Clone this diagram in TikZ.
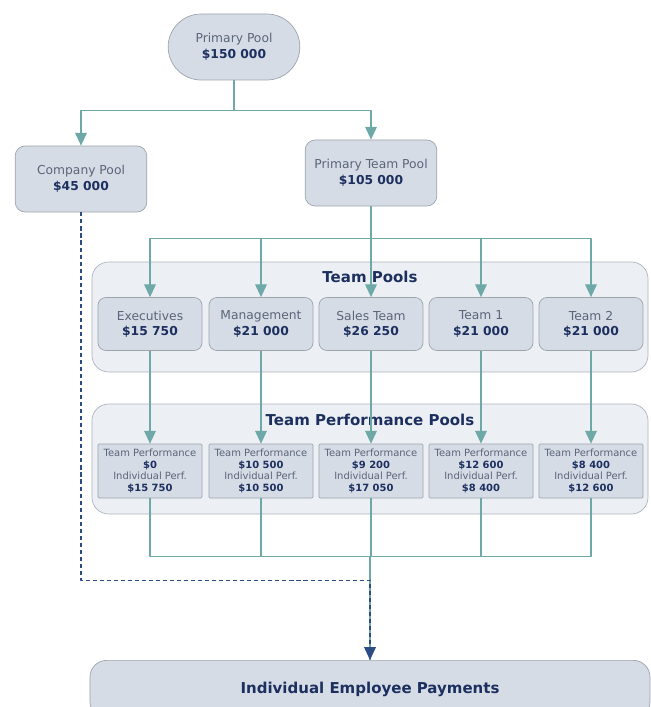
\documentclass[tikz,border=0pt]{standalone}
\usepackage{fontspec}
\setmainfont{DejaVu Sans}
\usetikzlibrary{arrows.meta}

\definecolor{boxfill}{HTML}{D5DCE6}
\definecolor{boxline}{HTML}{9EA4AC}
\definecolor{groupfill}{HTML}{ECEFF4}
\definecolor{groupline}{HTML}{AEB3BA}
\definecolor{linkteal}{HTML}{6EA9A7}
\definecolor{labelgray}{HTML}{5B6579}
\definecolor{amtblue}{HTML}{1C2F5E}
\definecolor{dashblue}{HTML}{2B4C84}

\newcommand\amt[1]{{\bfseries\color{amtblue}#1}}

\begin{document}
\begin{tikzpicture}[x=0.03cm,y=-0.03cm,line join=round,
  pool/.style={draw=boxline,fill=boxfill,line width=0.6pt,rounded corners=0.3cm,
    minimum width=3.95cm,minimum height=1.98cm,align=center,text=labelgray,
    font=\fontsize{10.5}{13.8}\selectfont},
  team/.style={pool,rounded corners=0.24cm,minimum width=3.12cm,minimum height=1.59cm,
    font=\fontsize{10.5}{13}\selectfont},
  perf/.style={draw=boxline,fill=boxfill,line width=0.6pt,rounded corners=1pt,
    minimum width=3.12cm,minimum height=1.62cm,align=center,text=labelgray,inner sep=1pt,
    font=\fontsize{8.5}{9.8}\selectfont},
  group/.style={draw=groupline,fill=groupfill,line width=0.6pt,rounded corners=0.5cm,
    minimum width=16.68cm,minimum height=3.3cm},
  title/.style={font=\fontsize{12.8}{14}\selectfont\bfseries,text=amtblue},
  link/.style={draw=linkteal,line width=1.2pt,-{Triangle[width=10pt,length=11pt]}},
  bar/.style={draw=linkteal,line width=1.2pt},
  flow/.style={draw=dashblue,line width=1pt,dashed,dash pattern=on 3.5pt off 2.5pt,
    -{Triangle[width=10pt,length=11pt]}}]

\clip (0,0) rectangle (651,707);

% group backgrounds
\node[group] (tpools) at (370,317) {};
\node[title] (tpTitle) at (370,277) {Team Pools};
\node[group] (ppools) at (370,459) {};
\node[title] (ppTitle) at (370,420) {Team Performance Pools};

% top pools
\node[pool,rounded corners=0.99cm] (prim) at (234,47) {Primary Pool\\\amt{\$150 000}};
\node[pool] (comp) at (81,179) {Company Pool\\\amt{\$45 000}};
\node[pool] (pteam) at (371,173) {Primary Team Pool\\\amt{\$105 000}};

% team pools and their performance pools
\foreach \n/\x/\lbl/\val/\tp/\ip in {
  exec/150/Executives/15 750/0/15 750,
  mgmt/261/Management/21 000/10 500/10 500,
  sales/371/Sales Team/26 250/9 200/17 050,
  teamA/481/Team 1/21 000/12 600/8 400,
  teamB/591/Team 2/21 000/8 400/12 600}{
  \node[team] (\n) at (\x,324) {\lbl\\\amt{\$\val}};
  \node[perf] (\n P) at (\x,471) {Team Performance\\\amt{\$\tp}\\Individual Perf.\\\amt{\$\ip}};
}

% payments
\node[draw=boxline,fill=boxfill,line width=0.6pt,rounded corners=0.5cm,anchor=north,
  minimum width=16.8cm,minimum height=1.74cm,
  font=\fontsize{12.8}{14}\selectfont\bfseries,text=amtblue] (pay) at (370,660)
  {Individual Employee Payments};

% connectors
\draw[link] (prim.south) -- ++(0,30) -| (comp.north);
\draw[link] (prim.south) -- ++(0,30) -| (pteam.north);
\foreach \n in {exec,mgmt,sales,teamA,teamB}{
  \draw[link] (pteam.south) -- ++(0,32) -| (\n.north);
  \draw[link] (\n.south) -- (\n P.north);
  \draw[bar] (\n P.south) -- ++(0,58) -| (pay.north);
}

% company pool goes straight to payments
\draw[flow] (comp.south) -- ++(0,368) -| (pay.north);

\end{tikzpicture}
\end{document}
